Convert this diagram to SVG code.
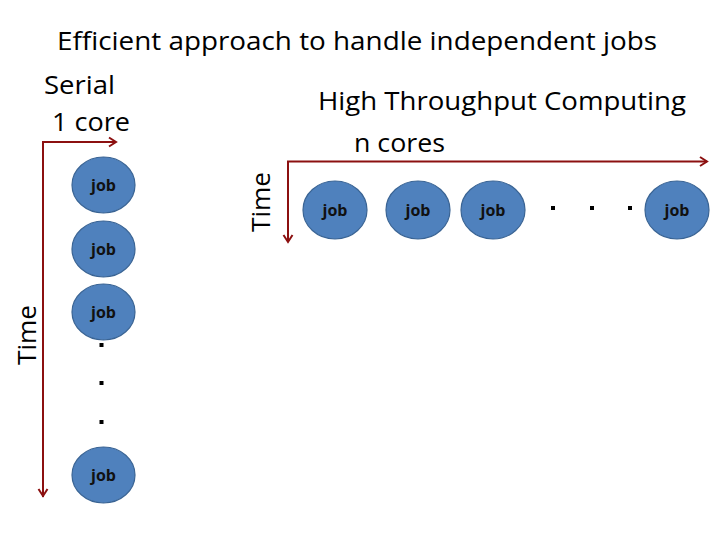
<svg xmlns="http://www.w3.org/2000/svg" width="720" height="540" viewBox="0 0 720 540">
<defs>
<marker id="ah" markerWidth="12" markerHeight="12" refX="9" refY="6" orient="auto" markerUnits="userSpaceOnUse">
<path d="M2,1.5 L9,6 L2,10.5" fill="none" stroke="#8c1010" stroke-width="2"/>
</marker>
<style>
.job ellipse{fill:#4f81bd;stroke:#3a6494;stroke-width:1.2}
.job text{font-family:"Open Sans","Liberation Sans",sans-serif;font-weight:bold;font-size:16px;text-anchor:middle;fill:#111}
.ax{stroke:#8c1010;stroke-width:2;fill:none}
.lbl{font-family:"Open Sans","Liberation Sans",sans-serif;font-size:26px;fill:#000}
.dot{fill:#000}
</style>
</defs>
<rect width="720" height="540" fill="#fff"/>
<text class="lbl" x="357" y="50" text-anchor="middle" textLength="600" lengthAdjust="spacingAndGlyphs">Efficient approach to handle independent jobs</text>
<text class="lbl" x="44" y="94" textLength="71" lengthAdjust="spacingAndGlyphs">Serial</text>
<text class="lbl" x="52" y="131" textLength="78" lengthAdjust="spacingAndGlyphs">1 core</text>
<text class="lbl" x="318" y="110" textLength="368" lengthAdjust="spacingAndGlyphs">High Throughput Computing</text>
<text class="lbl" x="354" y="152" textLength="91" lengthAdjust="spacingAndGlyphs">n cores</text>
<text class="lbl" transform="translate(36,335) rotate(-90)" text-anchor="middle" textLength="60" lengthAdjust="spacingAndGlyphs">Time</text>
<text class="lbl" transform="translate(270,202) rotate(-90)" text-anchor="middle" textLength="60" lengthAdjust="spacingAndGlyphs">Time</text>
<g id="connectors">
<path class="ax" d="M43,497 V142 H116" marker-end="url(#ah)"/>
<path class="ax" d="M43,142 V496" marker-end="url(#ah)"/>
<path class="ax" d="M288,242 V161.5 H707" marker-end="url(#ah)"/>
<path class="ax" d="M288,161.5 V242" marker-end="url(#ah)"/>
</g>
<g id="serial-job1" class="job"><ellipse cx="103.5" cy="185" rx="31.5" ry="28"/><text x="103.5" y="191">job</text></g>
<g id="serial-job2" class="job"><ellipse cx="103.5" cy="249" rx="31.5" ry="28"/><text x="103.5" y="255">job</text></g>
<g id="serial-job3" class="job"><ellipse cx="103.5" cy="312" rx="31.5" ry="28"/><text x="103.5" y="318">job</text></g>
<g id="serial-job4" class="job"><ellipse cx="103.5" cy="475" rx="31.5" ry="28"/><text x="103.5" y="481">job</text></g>
<rect class="dot" x="99.5" y="343" width="4" height="4"/>
<rect class="dot" x="99.5" y="381" width="4" height="4"/>
<rect class="dot" x="99.5" y="420" width="4" height="4"/>
<g id="htc-job1" class="job"><ellipse cx="335" cy="210" rx="32" ry="29"/><text x="335" y="216">job</text></g>
<g id="htc-job2" class="job"><ellipse cx="418" cy="210" rx="32" ry="29"/><text x="418" y="216">job</text></g>
<g id="htc-job3" class="job"><ellipse cx="493" cy="210" rx="32" ry="29"/><text x="493" y="216">job</text></g>
<g id="htc-job4" class="job"><ellipse cx="677" cy="210" rx="32" ry="29"/><text x="677" y="216">job</text></g>
<rect class="dot" x="551" y="206" width="4" height="4"/>
<rect class="dot" x="590" y="206" width="4" height="4"/>
<rect class="dot" x="628" y="206" width="4" height="4"/>
</svg>
